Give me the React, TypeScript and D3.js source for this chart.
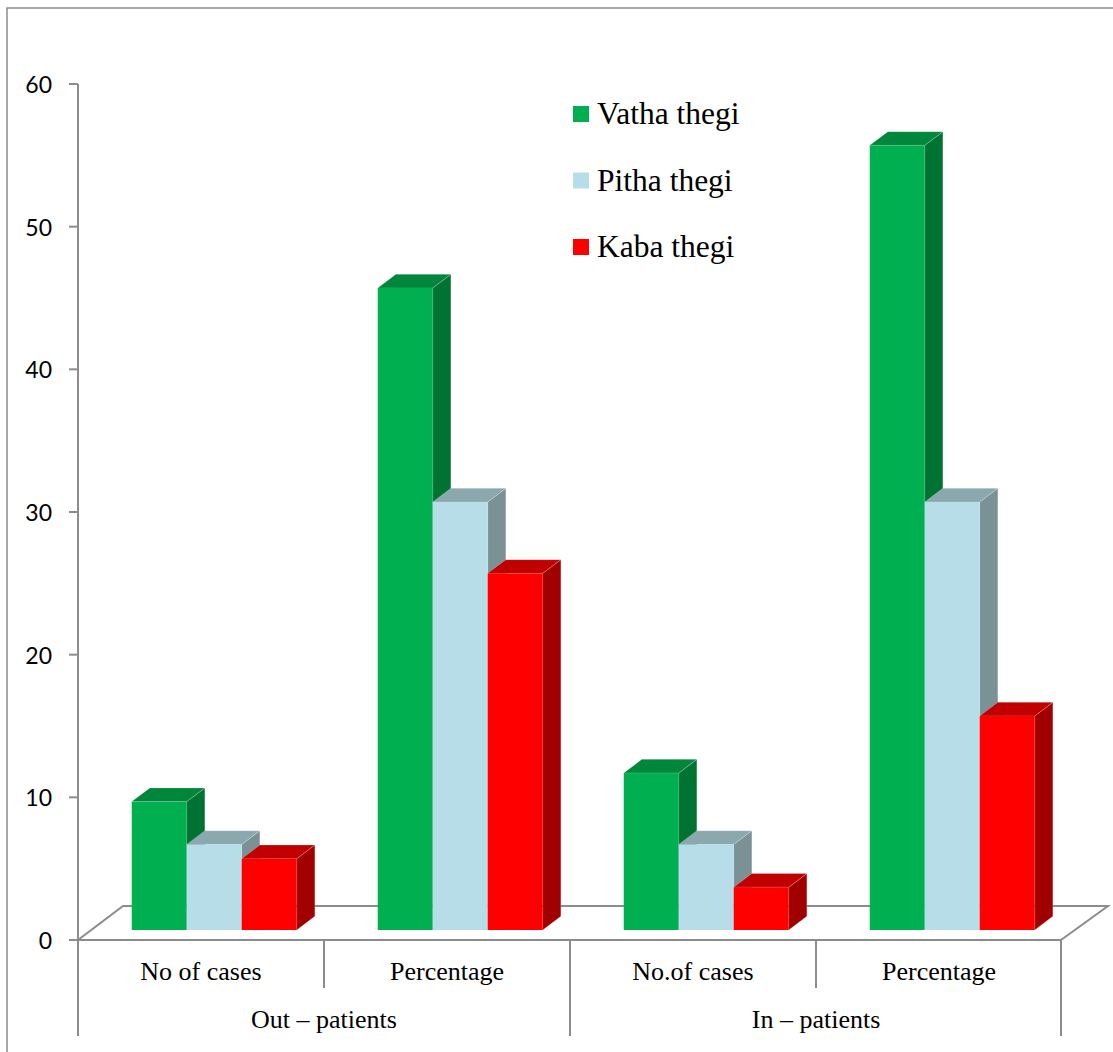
import React from "react";
import * as d3 from "d3";

// Sub-categories along the x axis, grouped under patient type
const categories = ["No of cases", "Percentage", "No.of cases", "Percentage"];
const groups = ["Out – patients", "In – patients"];
const seriesNames = ["Vatha thegi", "Pitha thegi", "Kaba thegi"];

// Values per series, one per sub-category
const vatha = [9, 45, 11, 55];
const pitha = [6, 30, 6, 30];
const kaba = [5, 25, 3, 15];

const yTicks = [0, 10, 20, 30, 40, 50, 60];

// front / top / side shades for each series
const palette = [
  { front: "#00B050", top: "#00873C", side: "#007232" },
  { front: "#B7DEE8", top: "#8CA8AF", side: "#7A9196" },
  { front: "#FF0000", top: "#C00000", side: "#A00000" },
];

const W = 1113;
const H = 1052;

export default function App() {
  const series = [vatha, pitha, kaba];

  const y = d3.scaleLinear().domain([0, 60]).range([940, 84]);
  const x = d3
    .scaleBand<number>()
    .domain(d3.range(categories.length))
    .range([78, 1062])
    .paddingInner(0)
    .paddingOuter(0);

  // floor depth vector and bar placement within it
  const depth = { dx: 45, dy: -34 };
  const f0 = 0.294; // front face of bars, fraction of floor depth
  const f1 = 0.697; // back face of bars
  const barW = 55;
  const nSeries = seriesNames.length;

  const floorFront = { x0: 78, x1: 1061, y: y(0) };
  const axisX = 78;
  const lineColor = "#8C8C8C";

  const bars: React.ReactNode[] = [];
  categories.forEach((_, ci) => {
    const cx = (x(ci) as number) + x.bandwidth() / 2 + depth.dx * f0;
    const start = cx - (barW * nSeries) / 2;
    series.forEach((vals, si) => {
      const v = vals[ci];
      const c = palette[si];
      const xl = start + si * barW;
      const xr = xl + barW;
      const yb = y(0) + depth.dy * f0;
      const yt = y(v) + depth.dy * f0;
      const ddx = depth.dx * (f1 - f0);
      const ddy = depth.dy * (f1 - f0);
      const top = `M${xl},${yt}L${xl + ddx},${yt + ddy}L${xr + ddx},${yt + ddy}L${xr},${yt}Z`;
      const side = `M${xr},${yt}L${xr + ddx},${yt + ddy}L${xr + ddx},${yb + ddy}L${xr},${yb}Z`;
      bars.push(
        <g key={`${ci}-${si}`}>
          <path d={side} fill={c.side} stroke="#ffffff" strokeOpacity={0.25} strokeWidth={0.8} />
          <path d={top} fill={c.top} stroke="#ffffff" strokeOpacity={0.25} strokeWidth={0.8} />
          <rect x={xl} y={yt} width={barW} height={yb - yt} fill={c.front} />
        </g>
      );
    });
  });

  const groupBounds = [
    [x(0) as number, (x(1) as number) + x.bandwidth()],
    [x(2) as number, (x(3) as number) + x.bandwidth()],
  ];

  return (
    <div style={{ position: "absolute", left: 0, top: 0 }}>
      <svg width={W} height={H} style={{ display: "block", background: "#ffffff" }}>
        {/* chart frame */}
        <rect x={7} y={8} width={W + 20} height={H + 20} fill="none" stroke="#8A8A8A" strokeWidth={1.5} />

        {/* floor */}
        <path
          d={`M${floorFront.x0},${floorFront.y}L${floorFront.x0 + depth.dx},${floorFront.y + depth.dy}L${floorFront.x1 + depth.dx + 2},${floorFront.y + depth.dy}L${floorFront.x1},${floorFront.y}`}
          fill="none"
          stroke={lineColor}
          strokeWidth={2}
        />

        {bars}

        {/* front edge of floor */}
        <line x1={floorFront.x0} x2={floorFront.x1} y1={floorFront.y} y2={floorFront.y} stroke={lineColor} strokeWidth={2} />

        {/* y axis */}
        <line x1={axisX} x2={axisX} y1={y(60)} y2={1036} stroke={lineColor} strokeWidth={2} />
        {yTicks.map((t) => (
          <g key={t}>
            <line x1={69} x2={axisX} y1={y(t)} y2={y(t)} stroke={lineColor} strokeWidth={2} />
            <text
              x={52}
              y={y(t)}
              textAnchor="end"
              dominantBaseline="central"
              fontFamily="Lato, 'Open Sans', sans-serif"
              fontSize={23}
              fill="#000"
            >
              {t}
            </text>
          </g>
        ))}

        {/* category dividers */}
        {categories.map((_, ci) =>
          ci === 0 ? null : (
            <line
              key={`d${ci}`}
              x1={x(ci) as number}
              x2={x(ci) as number}
              y1={floorFront.y}
              y2={ci === 2 ? 1036 : 988}
              stroke={lineColor}
              strokeWidth={2}
            />
          )
        )}
        <line x1={floorFront.x1} x2={floorFront.x1} y1={floorFront.y} y2={1036} stroke={lineColor} strokeWidth={2} />

        {/* category labels */}
        {categories.map((c, ci) => (
          <text
            key={`c${ci}`}
            x={(x(ci) as number) + x.bandwidth() / 2}
            y={980}
            textAnchor="middle"
            fontFamily="'Liberation Serif', 'Times New Roman', serif"
            fontSize={26}
            fill="#000"
          >
            {c}
          </text>
        ))}
        {groups.map((g, gi) => (
          <text
            key={`g${gi}`}
            x={(groupBounds[gi][0] + groupBounds[gi][1]) / 2}
            y={1028}
            textAnchor="middle"
            fontFamily="'Liberation Serif', 'Times New Roman', serif"
            fontSize={26}
            fill="#000"
          >
            {g}
          </text>
        ))}

        {/* legend */}
        {seriesNames.map((s, si) => (
          <g key={s} transform={`translate(573, ${106 + si * 66.5})`}>
            <rect x={0} y={0} width={16} height={16} fill={palette[si].front} />
            <text
              x={24}
              y={18}
              fontFamily="'Liberation Serif', 'Times New Roman', serif"
              fontSize={31.5}
              fill="#000"
            >
              {s}
            </text>
          </g>
        ))}
      </svg>
    </div>
  );
}
